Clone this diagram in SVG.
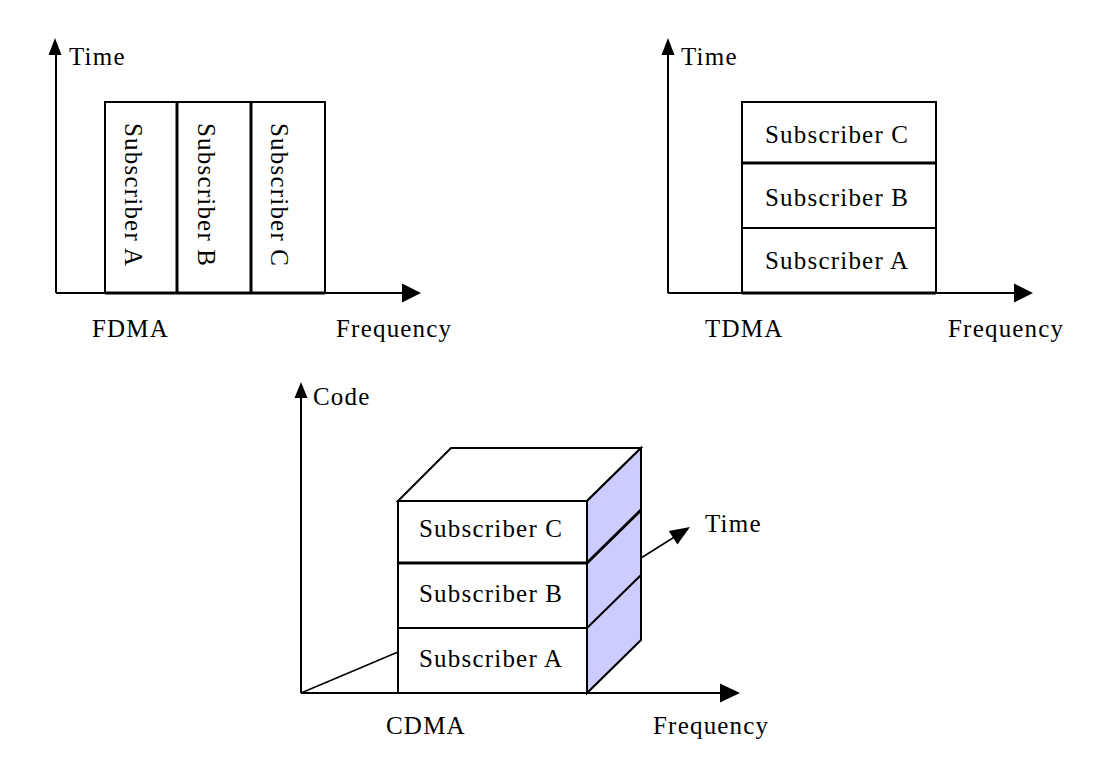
<svg xmlns="http://www.w3.org/2000/svg" width="1100" height="758" viewBox="0 0 1100 758">
<style>
.t{font-family:"Liberation Serif","Times New Roman",serif;font-size:25px;letter-spacing:1.2px;fill:#000}
.ax{stroke:#000;stroke-width:2;fill:none}
.box{stroke:#000;stroke-width:2;fill:#fff}
.thk{stroke:#000;stroke-width:3;fill:none}
.thin{stroke:#000;stroke-width:1.5;fill:none}
.ah{fill:#000;stroke:none}
</style>
<rect width="1100" height="758" fill="#fff"/>
<g id="fdma">
<rect class="box" x="105" y="102" width="72" height="191"/>
<rect class="box" x="177" y="102" width="74" height="191"/>
<rect class="box" x="251" y="102" width="74" height="191"/>
<line class="thk" x1="177" y1="102" x2="177" y2="293"/>
<line class="thk" x1="251" y1="102" x2="251" y2="293"/>
<line class="thk" x1="105" y1="293" x2="325" y2="293"/>
<text class="t" transform="translate(125,123) rotate(90)">Subscriber A</text>
<text class="t" transform="translate(198,123) rotate(90)">Subscriber B</text>
<text class="t" transform="translate(271,123) rotate(90)">Subscriber C</text>
<text class="t" x="69" y="65">Time</text>
<text class="t" x="92" y="337">FDMA</text>
<text class="t" x="336" y="337">Frequency</text>
</g>
<g id="tdma">
<rect class="box" x="742" y="102" width="194" height="61"/>
<rect class="box" x="742" y="163" width="194" height="65"/>
<rect class="box" x="742" y="228" width="194" height="65"/>
<line class="thk" x1="742" y1="163" x2="936" y2="163"/>
<line class="thk" x1="742" y1="293" x2="936" y2="293"/>
<text class="t" x="765" y="143">Subscriber C</text>
<text class="t" x="765" y="206">Subscriber B</text>
<text class="t" x="765" y="269">Subscriber A</text>
<text class="t" x="681" y="65">Time</text>
<text class="t" x="705" y="337">TDMA</text>
<text class="t" x="948" y="337">Frequency</text>
</g>
<g id="cdma">
<polygon class="box" points="398,501 451,448 641,448 587,501"/>
<polygon points="587,501 641,448 641,640 587,693" fill="#ccccff" stroke="#000" stroke-width="2"/>
<line class="thk" x1="587" y1="563" x2="641" y2="510"/>
<line class="ax" x1="587" y1="628" x2="641" y2="575"/>
<rect class="box" x="398" y="501" width="189" height="62"/>
<rect class="box" x="398" y="563" width="189" height="65"/>
<rect class="box" x="398" y="628" width="189" height="65"/>
<line class="thk" x1="398" y1="563" x2="587" y2="563"/>
<text class="t" x="419" y="537">Subscriber C</text>
<text class="t" x="419" y="602">Subscriber B</text>
<text class="t" x="419" y="667">Subscriber A</text>
<text class="t" x="313" y="405">Code</text>
<text class="t" x="705" y="532">Time</text>
<text class="t" x="386" y="734">CDMA</text>
<text class="t" x="653" y="734">Frequency</text>
</g>
<g id="connectors">
<line class="ax" x1="56" y1="293" x2="56" y2="52"/>
<polygon class="ah" points="55,38 48.5,55 61.5,55"/>
<line class="ax" x1="56" y1="293" x2="404" y2="293"/>
<polygon class="ah" points="421,293 402,283.5 402,302.5"/>
<line class="ax" x1="668" y1="293" x2="668" y2="52"/>
<polygon class="ah" points="668,38 661.5,55 674.5,55"/>
<line class="ax" x1="668" y1="293" x2="1016" y2="293"/>
<polygon class="ah" points="1033,293 1014,283.5 1014,302.5"/>
<line class="ax" x1="301" y1="693" x2="301" y2="395"/>
<polygon class="ah" points="301,382 294.5,398 307.5,398"/>
<line class="ax" x1="301" y1="693" x2="722" y2="693"/>
<polygon class="ah" points="740,693 720,683.5 720,702.5"/>
<line class="thin" x1="301" y1="693" x2="398" y2="652"/>
<line class="thin" x1="641" y1="558" x2="676" y2="536"/>
<polygon class="ah" points="690,527 677.4,544.5 668.8,530.9"/>
</g>
</svg>
